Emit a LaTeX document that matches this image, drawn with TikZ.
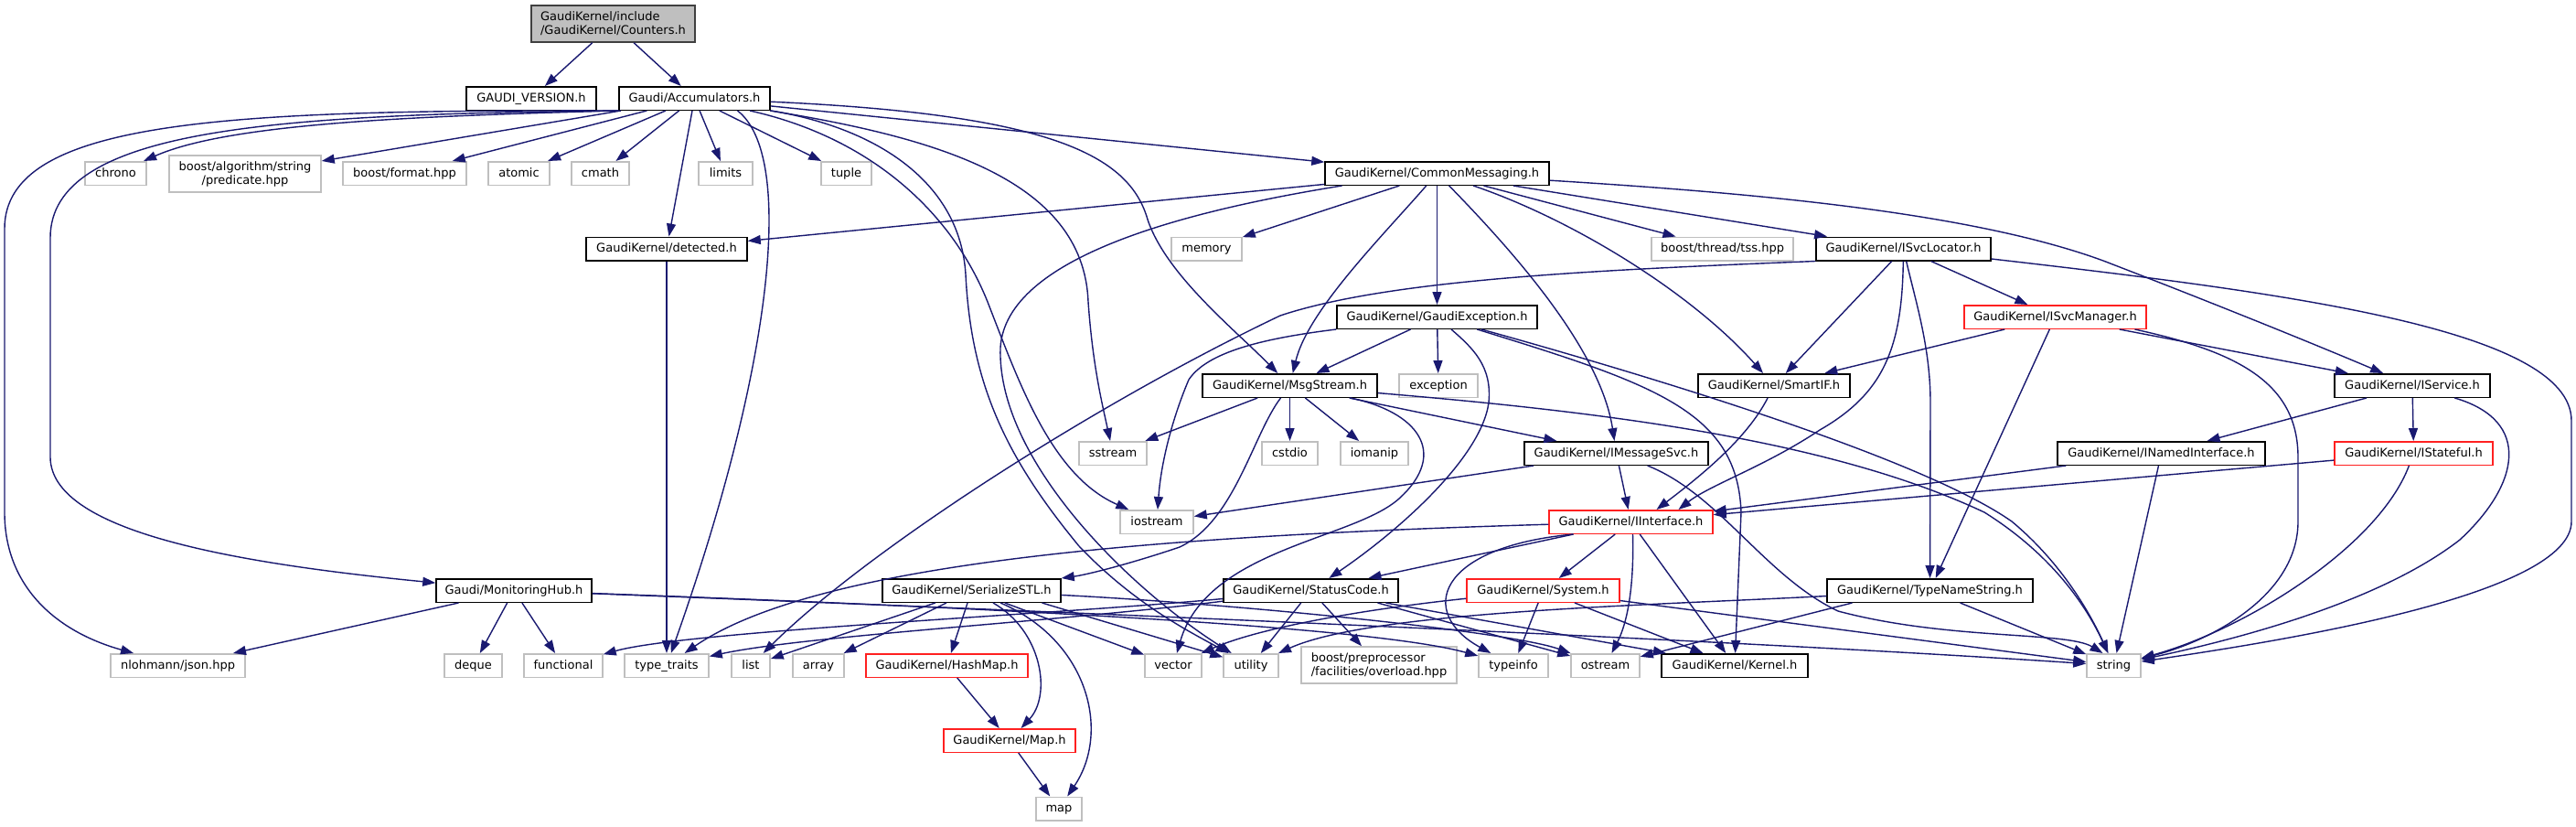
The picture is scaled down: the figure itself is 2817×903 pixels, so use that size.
\documentclass[tikz,border=0pt]{standalone}
\usepackage{fontspec}
\newfontfamily\gdfont{DejaVu Sans}
\newcommand\gdfontsz{\gdfont\fontsize{13}{15}\selectfont}
\usetikzlibrary{arrows.meta}
\definecolor{edgeblue}{HTML}{191970}
\definecolor{extgray}{HTML}{BFBFBF}
\definecolor{truncred}{HTML}{FF2020}
\definecolor{rootgray}{HTML}{BFBFBF}
\definecolor{rootborder}{HTML}{404040}
\begin{document}
\begin{tikzpicture}[x=1pt,y=-1pt,
  box/.style={line width=1.5pt, fill=white, inner sep=0pt, font=\gdfontsz},
  sl/.style={box, minimum height=25.5pt, text height=10pt, text depth=3pt},
  doc/.style={sl, draw=black},
  ext/.style={sl, draw=extgray},
  trunc/.style={sl, draw=truncred},
  extml/.style={box, draw=extgray, minimum height=40pt},
  root/.style={box, draw=rootborder, fill=rootgray, minimum height=40pt},
  edge/.style={draw=edgeblue, line width=1.4pt, -{Triangle[length=14pt,width=10pt]}}]
\fill[white] (0,0) rectangle (2817,903);
\useasboundingbox (0,0) rectangle (2817,903);

% nodes
\node[root, minimum width=179pt, align=left] (counters) at (670.5,26) {GaudiKernel/include\\/GaudiKernel/Counters.h};
\node[doc, minimum width=142pt] (gversion) at (581,107.5) {GAUDI\_VERSION.h};
\node[doc, minimum width=165pt] (accum) at (759.5,107.5) {Gaudi/Accumulators.h};
\node[ext, minimum width=67pt] (chrono) at (126.5,189.5) {chrono};
\node[extml, minimum width=166pt, align=center] (predicate) at (268,190) {boost/algorithm/string\\/predicate.hpp};
\node[ext, minimum width=135pt] (format) at (442.5,189.5) {boost/format.hpp};
\node[ext, minimum width=67pt] (atomic) at (567.5,189.5) {atomic};
\node[ext, minimum width=63pt] (cmath) at (656.5,189.5) {cmath};
\node[ext, minimum width=59pt] (limits) at (793.5,189.5) {limits};
\node[ext, minimum width=55pt] (tuple) at (925.5,189.5) {tuple};
\node[doc, minimum width=245pt] (commsg) at (1571.5,189.5) {GaudiKernel/CommonMessaging.h};
\node[doc, minimum width=176pt] (detected) at (729,272) {GaudiKernel/detected.h};
\node[ext, minimum width=77pt] (memory) at (1319.5,272) {memory};
\node[ext, minimum width=155pt] (tss) at (1883.5,272) {boost/thread/tss.hpp};
\node[doc, minimum width=191pt] (svcloc) at (2081.5,272) {GaudiKernel/ISvcLocator.h};
\node[doc, minimum width=219pt] (gexc) at (1571.5,346.5) {GaudiKernel/GaudiException.h};
\node[trunc, minimum width=199pt] (svcmgr) at (2247.5,346.5) {GaudiKernel/ISvcManager.h};
\node[doc, minimum width=191pt] (msgstream) at (1410.5,421.5) {GaudiKernel/MsgStream.h};
\node[ext, minimum width=86pt] (exception) at (1573,421.5) {exception};
\node[doc, minimum width=166pt] (smartif) at (1940,421.5) {GaudiKernel/SmartIF.h};
\node[doc, minimum width=170pt] (iservice) at (2638,421.5) {GaudiKernel/IService.h};
\node[ext, minimum width=74pt] (sstream) at (1217,495.5) {sstream};
\node[ext, minimum width=61pt] (cstdio) at (1410.5,495.5) {cstdio};
\node[ext, minimum width=74pt] (iomanip) at (1503,495.5) {iomanip};
\node[doc, minimum width=201pt] (imsgsvc) at (1767.5,495.5) {GaudiKernel/IMessageSvc.h};
\node[doc, minimum width=227pt] (inamed) at (2363.5,495.5) {GaudiKernel/INamedInterface.h};
\node[trunc, minimum width=173pt] (istateful) at (2639.5,495.5) {GaudiKernel/IStateful.h};
\node[ext, minimum width=80pt] (iostream) at (1265,570.5) {iostream};
\node[trunc, minimum width=179pt] (iinterface) at (1783.5,570.5) {GaudiKernel/IInterface.h};
\node[doc, minimum width=195pt] (serial) at (1062.5,645.5) {GaudiKernel/SerializeSTL.h};
\node[doc, minimum width=191pt] (statuscode) at (1433.5,645.5) {GaudiKernel/StatusCode.h};
\node[trunc, minimum width=167pt] (system) at (1687.5,645.5) {GaudiKernel/System.h};
\node[doc, minimum width=225pt] (typename) at (2110.5,645.5) {GaudiKernel/TypeNameString.h};
\node[doc, minimum width=170pt] (monhub) at (562,645.5) {Gaudi/MonitoringHub.h};
\node[ext, minimum width=147pt] (json) at (194.5,727.5) {nlohmann/json.hpp};
\node[ext, minimum width=63pt] (deque) at (517.5,727.5) {deque};
\node[ext, minimum width=86pt] (functional) at (616,727.5) {functional};
\node[ext, minimum width=92pt] (typetraits) at (729,727.5) {type\_traits};
\node[ext, minimum width=42pt] (list) at (821,727.5) {list};
\node[ext, minimum width=56pt] (array) at (895,727.5) {array};
\node[trunc, minimum width=177pt] (hashmap) at (1035.5,727.5) {GaudiKernel/HashMap.h};
\node[ext, minimum width=62pt] (vector) at (1283,727.5) {vector};
\node[ext, minimum width=60pt] (utility) at (1368,727.5) {utility};
\node[extml, minimum width=170pt, align=left] (overload) at (1508,727) {boost/preprocessor\\/facilities/overload.hpp};
\node[ext, minimum width=76pt] (typeinfo) at (1655,727.5) {typeinfo};
\node[ext, minimum width=75pt] (ostream) at (1755.5,727.5) {ostream};
\node[doc, minimum width=160pt] (kernel) at (1897,727.5) {GaudiKernel/Kernel.h};
\node[ext, minimum width=59pt] (string) at (2311.5,727.5) {string};
\node[trunc, minimum width=144pt] (mapH) at (1104,809.5) {GaudiKernel/Map.h};
\node[ext, minimum width=50pt] (map) at (1158,884) {map};

% Counters
\draw[edge] (counters) -- (gversion);
\draw[edge] (counters) -- (accum);
% Accumulators
\draw[edge] (accum.south west) .. controls (450,127) and (250,135) .. (chrono);
\draw[edge] (accum) -- (predicate);
\draw[edge] (accum) -- (format);
\draw[edge] (accum) -- (atomic);
\draw[edge] (accum) -- (cmath);
\draw[edge] (accum) -- (limits);
\draw[edge] (accum) -- (tuple);
\draw[edge] (accum) -- (detected);
\draw[edge] ([xshift=47pt]accum.south) .. controls (870,170) and (845,400) .. (typetraits);
\draw[edge] (accum) -- (commsg);
\draw[edge] (accum) .. controls (1150,125) and (1235,170) .. (1255,240) .. controls (1275,300) and (1350,360) .. (msgstream);
\draw[edge] (accum) .. controls (1020,150) and (1185,195) .. (1190,330) .. controls (1195,400) and (1205,440) .. (sstream);
\draw[edge] (accum) .. controls (960,140) and (1050,200) .. (1056,300) .. controls (1062,420) and (1100,500) .. (1180,597) .. controls (1240,660) and (1300,690) .. (utility);
\draw[edge] (accum) .. controls (950,150) and (1040,230) .. (1080,330) .. controls (1115,420) and (1150,520) .. (iostream);
\draw[edge] (accum.south west) .. controls (250,120) and (5,130) .. (5,250) -- (5,560) .. controls (5,640) and (60,690) .. (json);
\draw[edge] (accum.south west) .. controls (300,125) and (55,140) .. (55,260) -- (55,500) .. controls (56,580) and (250,615) .. (monhub);
% CommonMessaging
\draw[edge] (commsg) -- (detected);
\draw[edge] ([xshift=-104pt]commsg.south) .. controls (1300,230) and (1100,280) .. (1094,380) .. controls (1090,500) and (1230,640) .. (utility);
\draw[edge] (commsg) -- (memory);
\draw[edge] (commsg) .. controls (1510,260) and (1430,340) .. (msgstream);
\draw[edge] (commsg) -- (gexc);
\draw[edge] (commsg) .. controls (1650,270) and (1750,380) .. (imsgsvc);
\draw[edge] (commsg) .. controls (1720,240) and (1850,320) .. (smartif);
\draw[edge] (commsg) -- (tss);
\draw[edge] (commsg) -- (svcloc);
\draw[edge] (commsg) .. controls (1900,210) and (2150,230) .. (2300,285) .. controls (2430,335) and (2540,380) .. (iservice);
% GaudiException
\draw[edge] (gexc.south west) .. controls (1380,370) and (1320,385) .. (1300,415) .. controls (1285,450) and (1270,500) .. (iostream);
\draw[edge] (gexc) -- (msgstream);
\draw[edge] (gexc) -- (exception);
\draw[edge] (gexc) .. controls (1610,380) and (1632,400) .. (1628,440) .. controls (1620,500) and (1530,580) .. (statuscode);
\draw[edge] (gexc) .. controls (1810,420) and (1900,450) .. (1904,560) -- (kernel);
\draw[edge] (gexc) .. controls (1800,410) and (2100,500) .. (2200,570) .. controls (2260,620) and (2290,680) .. (string);
% MsgStream
\draw[edge] (msgstream) -- (sstream);
\draw[edge] ([xshift=-10pt]msgstream.south) .. controls (1370,475) and (1350,570) .. (1290,598) .. controls (1240,615) and (1190,628) .. (serial.north east);
\draw[edge] (msgstream) -- (cstdio);
\draw[edge] (msgstream) -- (iomanip);
\draw[edge] (msgstream) .. controls (1550,450) and (1585,495) .. (1530,545) .. controls (1480,590) and (1320,600) .. (vector);
\draw[edge] (msgstream) -- (imsgsvc);
\draw[edge] (msgstream) .. controls (1750,450) and (2000,480) .. (2170,560) .. controls (2250,610) and (2285,670) .. (string);
% IMessageSvc
\draw[edge] (imsgsvc) -- (iostream);
\draw[edge] (imsgsvc) -- (iinterface);
\draw[edge] (imsgsvc) .. controls (1880,540) and (1930,630) .. (2010,668) .. controls (2130,700) and (2260,690) .. ([xshift=-12pt]string.north);
% INamedInterface, IStateful, IService
\draw[edge] (inamed) -- (iinterface);
\draw[edge] (inamed) -- (string);
\draw[edge] (istateful) -- (iinterface);
\draw[edge] (istateful) .. controls (2600,600) and (2450,690) .. (string);
\draw[edge] (iservice) -- (inamed);
\draw[edge] (iservice) -- (istateful);
\draw[edge] (iservice) .. controls (2770,460) and (2755,530) .. (2690,590) .. controls (2600,660) and (2440,700) .. (string);
% ISvcLocator
\draw[edge] (svcloc.south west) .. controls (1750,295) and (1520,305) .. (1400,345) .. controls (1200,440) and (950,600) .. (list);
\draw[edge] (svcloc) -- (smartif);
\draw[edge] (svcloc) .. controls (2080,380) and (2060,430) .. (1990,470) .. controls (1930,510) and (1870,530) .. ([xshift=52pt]iinterface.north);
\draw[edge] (svcloc) .. controls (2095,330) and (2111,380) .. (2111,440) -- (typename);
\draw[edge] (svcloc) -- (svcmgr);
\draw[edge] (svcloc) .. controls (2500,320) and (2812,360) .. (2812,460) -- (2812,570) .. controls (2812,650) and (2500,700) .. (string);
% ISvcManager
\draw[edge] (svcmgr) -- (smartif);
\draw[edge] (svcmgr) -- (typename);
\draw[edge] (svcmgr) -- (iservice);
\draw[edge] ([xshift=87pt]svcmgr.south) .. controls (2450,385) and (2513,420) .. (2513,500) -- (2513,570) .. controls (2513,650) and (2420,700) .. (string);
% SmartIF
\draw[edge] (smartif) .. controls (1910,480) and (1860,520) .. ([xshift=28pt]iinterface.north);
% TypeNameString
\draw[edge] (typename) .. controls (1800,662) and (1500,668) .. (utility);
\draw[edge] ([xshift=-85pt]typename.south) -- (ostream);
\draw[edge] (typename) -- (string);
% StatusCode
\draw[edge] (statuscode) .. controls (1150,672) and (750,690) .. (functional);
\draw[edge] (statuscode) .. controls (1150,680) and (880,695) .. (typetraits);
\draw[edge] (statuscode) -- (utility);
\draw[edge] (statuscode) -- (overload);
\draw[edge] ([xshift=73pt]statuscode.south) -- (ostream);
\draw[edge] ([xshift=82pt]statuscode.south) -- (kernel);
% System
\draw[edge] (system) .. controls (1500,665) and (1380,685) .. (vector);
\draw[edge] (system) -- (typeinfo);
\draw[edge] (system) -- (kernel);
\draw[edge] (system) -- (string);
% MonitoringHub
\draw[edge] (monhub) -- (json);
\draw[edge] (monhub) -- (deque);
\draw[edge] (monhub) -- (functional);
\draw[edge] (monhub) .. controls (1100,665) and (1500,685) .. (typeinfo);
\draw[edge] (monhub) .. controls (1200,670) and (1900,700) .. (string);
% SerializeSTL
\draw[edge] (serial) -- (list);
\draw[edge] (serial) -- (array);
\draw[edge] (serial) -- (hashmap);
\draw[edge] (serial) .. controls (1140,690) and (1150,760) .. (mapH);
\draw[edge] (serial) .. controls (1190,700) and (1215,800) .. (map);
\draw[edge] (serial) -- (vector);
\draw[edge] ([xshift=77pt]serial.south) -- (utility);
\draw[edge] (serial) .. controls (1350,660) and (1650,690) .. (ostream);
% HashMap, Map
\draw[edge] (hashmap) -- (mapH);
\draw[edge] (mapH) -- (map);
% IInterface
\draw[edge] (iinterface) .. controls (1300,585) and (900,610) .. (typetraits);
\draw[edge] (iinterface) -- (statuscode);
\draw[edge] ([xshift=-63pt]iinterface.south) .. controls (1570,598) and (1550,670) .. (typeinfo);
\draw[edge] (iinterface) -- (system);
\draw[edge] ([xshift=2pt]iinterface.south) .. controls (1787,640) and (1780,680) .. (ostream);
\draw[edge] (iinterface) -- (kernel);
% detected
\draw[edge] (detected) -- (typetraits);
\end{tikzpicture}
\end{document}
